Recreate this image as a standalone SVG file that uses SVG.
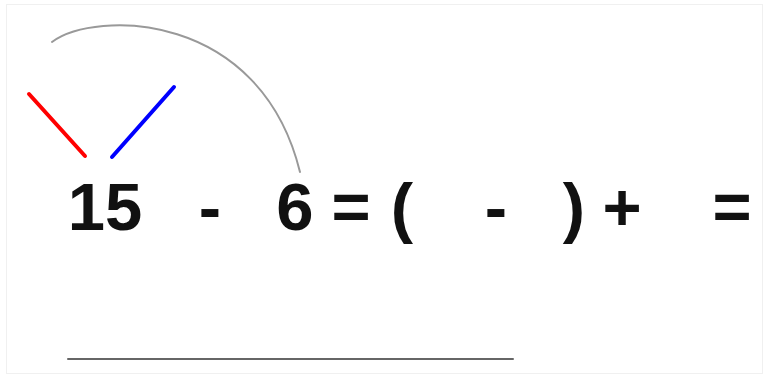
<svg xmlns="http://www.w3.org/2000/svg" width="767" height="376" viewBox="0 0 767 376">
<style>
.t{font-family:"Liberation Sans",Arial,sans-serif;font-weight:bold;font-size:67px;fill:#111;text-anchor:middle}
</style>
<rect x="0" y="0" width="767" height="376" fill="#fff"/>
<rect x="6.5" y="4.5" width="756" height="369" fill="none" stroke="#f0f0f0" stroke-width="1"/>
<g id="connectors" fill="none" stroke-linecap="round">
<path d="M52,42 C95,10 260,10 300,172" stroke="#999" stroke-width="2"/>
<line x1="29" y1="94" x2="85" y2="156" stroke="#f00" stroke-width="4"/>
<line x1="112" y1="157" x2="174" y2="87" stroke="#00f" stroke-width="4"/>
<line x1="68" y1="359" x2="513" y2="359" stroke="#666" stroke-width="2"/>
</g>
<g id="n15"><text class="t" x="105" y="230">15</text></g>
<g id="minus1"><text class="t" x="210" y="230">-</text></g>
<g id="n6"><text class="t" x="295" y="230">6</text></g>
<g id="eq1"><text class="t" x="351" y="230">=</text></g>
<g id="lpar"><text class="t" x="402" y="230">(</text></g>
<g id="minus2"><text class="t" x="496" y="230">-</text></g>
<g id="rpar"><text class="t" x="574" y="230">)</text></g>
<g id="plus"><text class="t" x="622" y="230">+</text></g>
<g id="eq2"><text class="t" x="732" y="230">=</text></g>
</svg>
